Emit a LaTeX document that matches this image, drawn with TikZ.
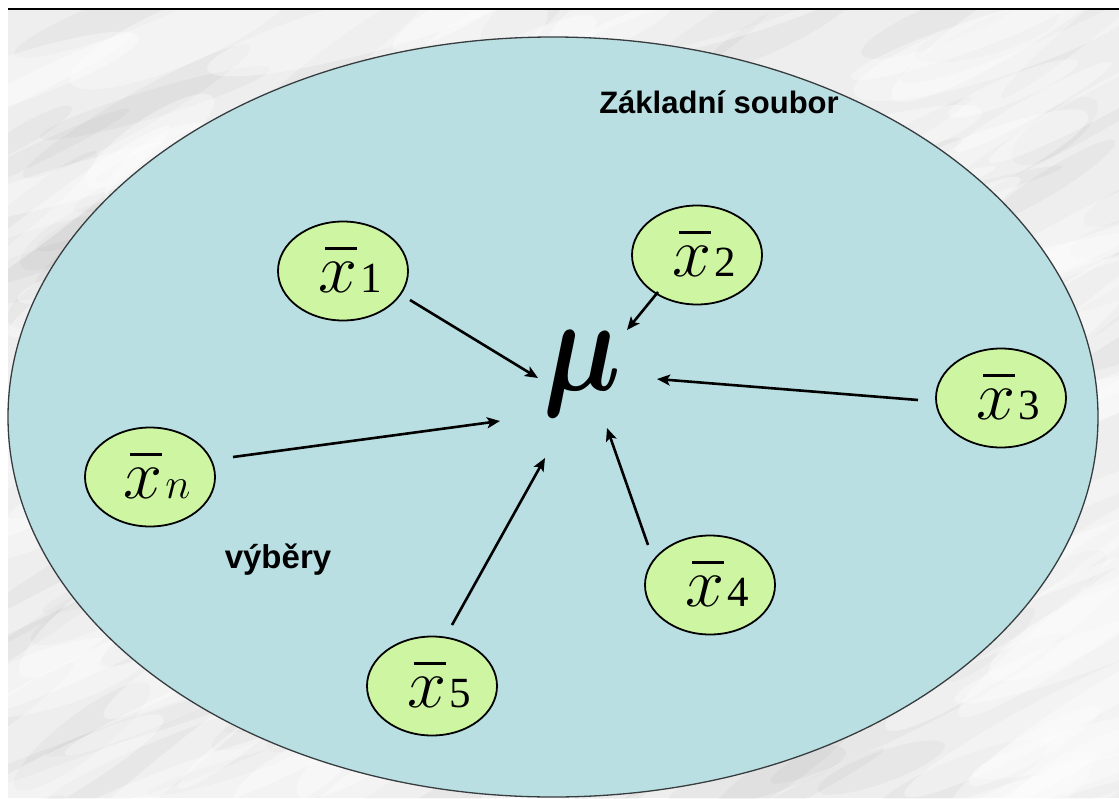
\RequirePackage{fix-cm}
\documentclass[tikz,border=0pt]{standalone}
\usepackage{bm}
\usepackage{graphicx}
\usepackage{fontspec}
\usetikzlibrary{arrows.meta,shapes.geometric}
\newfontfamily\tnr{Liberation Serif}
\newfontfamily\arial{Liberation Sans}
\definecolor{poolblue}{RGB}{185,223,227}
\definecolor{samplegreen}{RGB}{206,245,162}
\definecolor{rimgray}{RGB}{55,60,62}
\definecolor{paper}{RGB}{238,238,238}
% sample mean label: x with a bar and a same-baseline smaller index
\newcommand\xlab[1]{\makebox[0pt]{\hspace*{14pt}\smash{\raisebox{-21pt}{\tnr\fontsize{70}{70}\selectfont
  \rlap{\hspace*{7pt}\rule[42pt]{32pt}{2.6pt}}$x$\hspace{3pt}\fontsize{43}{43}\selectfont #1}}}}
\tikzset{
  sample/.style={ellipse, draw=black, line width=1.8pt, fill=samplegreen,
    minimum width=130pt, minimum height=99pt, inner sep=0pt},
  arr/.style={line width=2.6pt, -{Stealth[length=13pt,width=11pt,inset=3pt]}},
  caption/.style={font=\arial\bfseries\fontsize{31}{31}\selectfont, anchor=base, inner sep=0pt}
}
\begin{document}
\begin{tikzpicture}[x=1pt,y=-1pt]
\useasboundingbox (0,0) rectangle (1119,798);
\fill[white] (0,0) rectangle (1119,798);
% mottled backdrop
\begin{scope}
  \clip (8,9) rectangle (1119,798);
  \fill[paper] (8,9) rectangle (1119,798);
  \pgfmathsetseed{11}
  \foreach \i in {1,...,140}{
    \pgfmathsetmacro\px{rnd*1150}
    \pgfmathsetmacro\py{rnd*820}
    \pgfmathsetmacro\rx{50+rnd*120}
    \pgfmathsetmacro\ry{8+rnd*18}
    \pgfmathsetmacro\ang{15+rnd*25}
    \fill[gray, opacity=0.06, rotate around={\ang:(\px,\py)}] (\px,\py) ellipse [x radius=\rx, y radius=\ry];
  }
  \foreach \i in {1,...,140}{
    \pgfmathsetmacro\px{rnd*1150}
    \pgfmathsetmacro\py{rnd*820}
    \pgfmathsetmacro\rx{60+rnd*130}
    \pgfmathsetmacro\ry{10+rnd*22}
    \pgfmathsetmacro\ang{15+rnd*25}
    \fill[white, opacity=0.35, rotate around={\ang:(\px,\py)}] (\px,\py) ellipse [x radius=\rx, y radius=\ry];
  }
\end{scope}
\draw[line width=2pt] (8,9) -- (1119,9);

% population
\draw[draw=rimgray, line width=1.3pt, fill=poolblue] (553,417) ellipse [x radius=545, y radius=380];
\node[caption] (pop) at (719,113) {Základní soubor};
\node[caption, font=\arial\bfseries\fontsize{33}{33}\selectfont] (sel) at (278,568) {výběry};

% population mean
\node[anchor=base, inner sep=0pt, font=\fontsize{122}{122}\selectfont] (mu) at (582,390) {\scalebox{0.9}[1.1]{$\bm{\mu}$}};

% samples
\node[sample] (x1) at (343,271) {\xlab{1}};
\node[sample] (x2) at (697,255) {\xlab{2}};
\node[sample] (x3) at (1001,398) {\xlab{3}};
\node[sample] (xn) at (150,477) {\xlab{$n$}};
\node[sample] (x4) at (710,585) {\xlab{4}};
\node[sample] (x5) at (432,686) {\xlab{5}};

% each sample mean points to the population mean
\draw[arr] ([shift={(67,29)}]x1.center) -- ([shift={(-44,-12)}]mu.base);
\draw[arr] ([shift={(-39,37)}]x2.center) -- ([shift={(45,-60)}]mu.base);
\draw[arr] ([shift={(-83,2)}]x3.center) -- ([shift={(75,-11)}]mu.base);
\draw[arr] ([shift={(83,-20)}]xn.center) -- ([shift={(-82,31)}]mu.base);
\draw[arr] ([shift={(-62,-40)}]x4.center) -- ([shift={(25,38)}]mu.base);
\draw[arr] ([shift={(20,-61)}]x5.center) -- ([shift={(-37,68)}]mu.base);
\end{tikzpicture}
\end{document}
